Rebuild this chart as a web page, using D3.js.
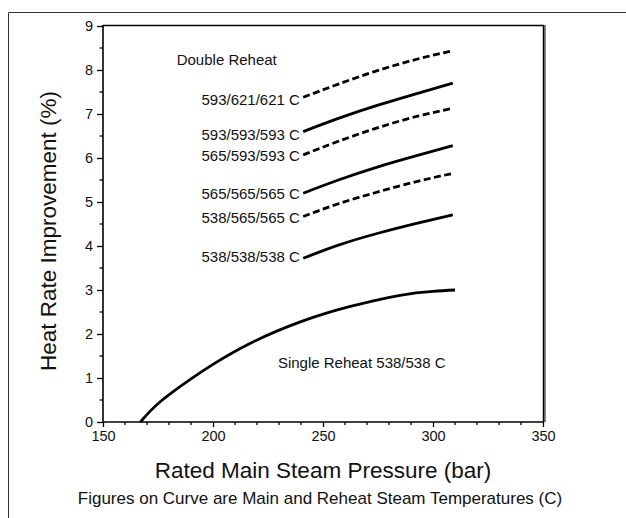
<!DOCTYPE html>
<html>
<head>
<meta charset="utf-8">
<script src="https://cdn.jsdelivr.net/npm/d3@7"></script>
<style>
  html, body { margin: 0; padding: 0; background: #fff; }
  svg { display: block; }
  text { font-family: "Liberation Sans", Arial, Helvetica, sans-serif; fill: #111; }
</style>
</head>
<body>
<svg id="chart" width="626" height="518"></svg>
<script>
// ---- data ----
const xTicks = [150, 200, 250, 300, 350];
const yTicks = [0, 1, 2, 3, 4, 5, 6, 7, 8, 9];

const singlePressure = [167, 176, 190, 200, 217, 240, 262, 285, 300, 310];
const singleValues   = [0, 0.46, 0.98, 1.31, 1.79, 2.28, 2.62, 2.88, 2.97, 3.0];

const doublePressure = [241, 257, 275, 293, 309];
const seriesNames = ["593/621/621 C", "593/593/593 C", "565/593/593 C", "565/565/565 C", "538/565/565 C", "538/538/538 C"];
const seriesDashed = [true, false, true, false, true, false];
const v593_621_621 = [7.38, 7.68, 7.99, 8.25, 8.44];
const v593_593_593 = [6.60, 6.90, 7.20, 7.47, 7.70];
const v565_593_593 = [6.07, 6.38, 6.69, 6.95, 7.13];
const v565_565_565 = [5.20, 5.50, 5.80, 6.06, 6.28];
const v538_565_565 = [4.67, 4.96, 5.23, 5.47, 5.65];
const v538_538_538 = [3.72, 4.02, 4.29, 4.52, 4.71];
const doubleValues = [v593_621_621, v593_593_593, v565_593_593, v565_565_565, v538_565_565, v538_538_538];

// label anchor values (data units)
const labelPressure = 239.5;
const labelValues = [7.32, 6.53, 6.06, 5.20, 4.65, 3.77];
const titleDouble = { text: "Double Reheat", x: 183.5, y: 8.23 };
const titleSingle = { text: "Single Reheat 538/538 C", x: 229.5, y: 1.34 };

// ---- layout ----
const svg = d3.select("#chart");
const mLeft = 103, mRight = 543, mTop = 26, mBottom = 422;
const x = d3.scaleLinear().domain([150, 350]).range([mLeft, mRight]);
const y = d3.scaleLinear().domain([0, 9]).range([mBottom, mTop]);

// outer frame
svg.append("line").attr("x1", 8.5).attr("x2", 626).attr("y1", 12.5).attr("y2", 12.5)
  .attr("stroke", "#333").attr("stroke-width", 1);
svg.append("line").attr("x1", 8.5).attr("x2", 8.5).attr("y1", 12.5).attr("y2", 518)
  .attr("stroke", "#333").attr("stroke-width", 1);

// plot box: top and right borders
svg.append("line").attr("x1", mLeft).attr("x2", mRight + 1).attr("y1", mTop - 0.5).attr("y2", mTop - 0.5)
  .attr("stroke", "#000").attr("stroke-width", 1.5);
svg.append("line").attr("x1", mRight + 2).attr("x2", mRight + 2).attr("y1", mTop - 1).attr("y2", mBottom)
  .attr("stroke", "#888").attr("stroke-width", 2);
svg.append("line").attr("x1", mRight + 0.5).attr("x2", mRight + 0.5).attr("y1", mTop - 1).attr("y2", mBottom)
  .attr("stroke", "#000").attr("stroke-width", 1.5);

// minor ticks
const xMinor = d3.range(150, 351, 10).filter(v => v % 50 !== 0);
const yMinor = d3.range(0.5, 9, 1);
const gx = svg.append("g").attr("transform", `translate(0,${mBottom})`);
gx.selectAll("line.minor").data(xMinor).join("line").attr("class", "minor")
  .attr("x1", d => x(d)).attr("x2", d => x(d)).attr("y1", 0).attr("y2", 3)
  .attr("stroke", "#000").attr("stroke-width", 1.3);
const gy = svg.append("g").attr("transform", `translate(${mLeft},0)`);
gy.selectAll("line.minor").data(yMinor).join("line").attr("class", "minor")
  .attr("y1", d => y(d)).attr("y2", d => y(d)).attr("x1", 0).attr("x2", -3.5)
  .attr("stroke", "#000").attr("stroke-width", 1.3);

// axes
const xAxis = d3.axisBottom(x).tickValues(xTicks).tickSize(5).tickPadding(4).tickFormat(d3.format("d"));
const yAxis = d3.axisLeft(y).tickValues(yTicks).tickSize(6).tickPadding(4).tickFormat(d3.format("d"));
gx.call(xAxis);
gy.call(yAxis);
[gx, gy].forEach(g => {
  g.select(".domain").attr("stroke", "#000").attr("stroke-width", 1.6);
  g.selectAll(".tick line").attr("stroke", "#000").attr("stroke-width", 1.3);
  g.selectAll(".tick text").style("font-family", "'Liberation Sans', Arial, sans-serif")
    .style("font-size", "14.5px").attr("fill", "#111");
});
gx.select(".domain").attr("d", `M${mLeft},0H${mRight + 1}`);
gy.select(".domain").attr("d", `M0,${mBottom}V${mTop - 1}`);
gx.selectAll(".tick text").attr("dy", "0.72em");

// curves
const line = d3.line().x(d => x(d[0])).y(d => y(d[1])).curve(d3.curveNatural);
const plot = svg.append("g");

plot.append("path")
  .datum(singlePressure.map((p, i) => [p, singleValues[i]]))
  .attr("d", line).attr("fill", "none").attr("stroke", "#000").attr("stroke-width", 2.8);

doubleValues.forEach((vals, k) => {
  plot.append("path")
    .datum(doublePressure.map((p, i) => [p, vals[i]]))
    .attr("d", line).attr("fill", "none").attr("stroke", "#000").attr("stroke-width", 2.8)
    .attr("stroke-dasharray", seriesDashed[k] ? "7,3.5" : null);
});

// labels
const labelFont = "15px";
plot.selectAll("text.series").data(seriesNames).join("text").attr("class", "series")
  .attr("x", x(labelPressure)).attr("y", (d, i) => y(labelValues[i]))
  .attr("dy", "0.36em").attr("text-anchor", "end").style("font-size", labelFont)
  .text(d => d);

plot.append("text").attr("x", x(titleDouble.x)).attr("y", y(titleDouble.y)).attr("dy", "0.36em")
  .style("font-size", labelFont).text(titleDouble.text);
plot.append("text").attr("x", x(titleSingle.x)).attr("y", y(titleSingle.y)).attr("dy", "0.36em")
  .style("font-size", labelFont).text(titleSingle.text);

// axis titles
svg.append("text").attr("x", (mLeft + mRight) / 2).attr("y", 478).attr("text-anchor", "middle")
  .style("font-size", "22.5px").text("Rated Main Steam Pressure (bar)");
svg.append("text").attr("transform", "translate(56,231) rotate(-90)").attr("text-anchor", "middle")
  .style("font-size", "22.5px").text("Heat Rate Improvement (%)");
svg.append("text").attr("x", 320).attr("y", 504).attr("text-anchor", "middle")
  .style("font-size", "17px").text("Figures on Curve are Main and Reheat Steam Temperatures (C)");
</script>
</body>
</html>
